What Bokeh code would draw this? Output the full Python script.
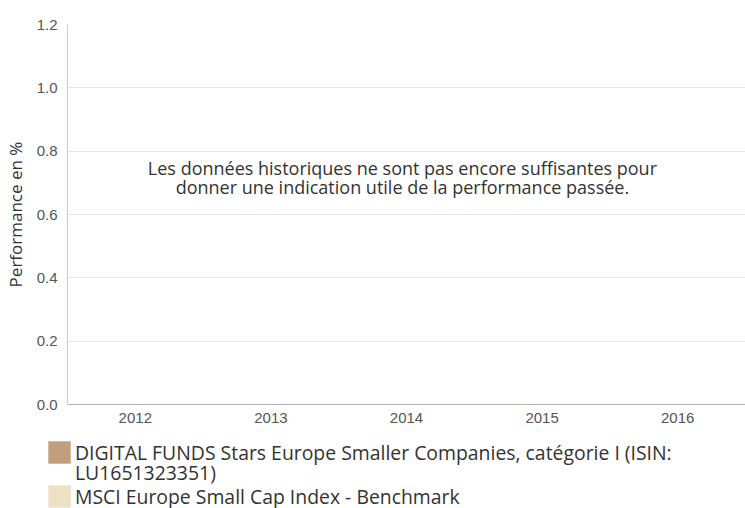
from bokeh.plotting import figure
from bokeh.layouts import column
from bokeh.models import FactorRange, Legend, LegendItem, Label, NumeralTickFormatter, ColumnDataSource
from bokeh.transform import dodge
from bokeh.embed import file_html
from bokeh.resources import INLINE
import numpy as np

years = ["2012", "2013", "2014", "2015", "2016"]
fund_values = [np.nan, np.nan, np.nan, np.nan, np.nan]
bench_values = [np.nan, np.nan, np.nan, np.nan, np.nan]
fund_name_lines = ["DIGITAL FUNDS Stars Europe Smaller Companies, catégorie I (ISIN:",
                   "LU1651323351)"]
bench_name = "MSCI Europe Small Cap Index - Benchmark"
message = "Les données historiques ne sont pas encore suffisantes pour\ndonner une indication utile de la performance passée."
y_label = "Performance en %"
fund_color = "#C39E7D"
bench_color = "#EEE2C6"

src = ColumnDataSource(dict(year=years, fund=fund_values, bench=bench_values))

p = figure(width=745, height=436, x_range=FactorRange(*years), y_range=(0, 1.2),
           output_backend="svg", toolbar_location=None,
           min_border_left=0, min_border_right=0, min_border_top=24, min_border_bottom=32)
p.frame_align = False

r1 = p.vbar(x=dodge("year", -0.18, range=p.x_range), top="fund", width=0.34, source=src,
            color=fund_color, line_color=None)
r2 = p.vbar(x=dodge("year", 0.18, range=p.x_range), top="bench", width=0.34, source=src,
            color=bench_color, line_color=None)

p.outline_line_color = None
p.background_fill_color = "white"
p.border_fill_color = "white"

p.xgrid.grid_line_color = None
p.ygrid.grid_line_color = "#e6e6e6"
p.yaxis.ticker = [0, 0.2, 0.4, 0.6, 0.8, 1.0, 1.2]
p.yaxis.formatter = NumeralTickFormatter(format="0.0")

for ax in (p.xaxis[0], p.yaxis[0]):
    ax.major_tick_line_color = None
    ax.minor_tick_line_color = None
    ax.major_label_text_font = "Liberation Sans"
    ax.major_label_text_font_size = "15px"
    ax.major_label_text_color = "#555555"
p.xaxis.axis_line_color = "#b0b0b0"
p.yaxis.axis_line_color = "#cccccc"
p.yaxis.major_label_standoff = 4
p.xaxis.major_label_standoff = 2
p.yaxis.axis_label = y_label
p.yaxis.axis_label_text_font = "Open Sans"
p.yaxis.axis_label_text_font_style = "normal"
p.yaxis.axis_label_text_font_size = "17px"
p.yaxis.axis_label_text_color = "#333333"
p.yaxis.axis_label_standoff = 7

msg = Label(x=2.47, y=0.717, text=message, text_align="center", text_baseline="middle",
            text_font="Open Sans", text_font_size="18px", text_color="#333333",
            text_line_height=0.82)
p.add_layout(msg)

# legend panel below the chart
q = figure(width=745, height=72, x_range=(0, 1), y_range=(0, 1),
           output_backend="svg", toolbar_location=None,
           x_axis_type=None, y_axis_type=None,
           min_border_left=45, min_border_right=0, min_border_top=2, min_border_bottom=0)
q.frame_align = False
q.outline_line_color = None
q.grid.visible = False
l1 = q.vbar(x=[0.5], top=[fund_values[0]], width=0.1, color=fund_color, line_color=None)
l1b = q.vbar(x=[0.5], top=[fund_values[0]], width=0.1, fill_alpha=0, line_alpha=0)
l2 = q.vbar(x=[0.5], top=[bench_values[0]], width=0.1, color=bench_color, line_color=None)

common = dict(orientation="vertical",
              label_text_font="Open Sans", label_text_font_size="19.4px",
              label_text_color="#333333", spacing=0,
              glyph_width=28, glyph_height=28, padding=0, margin=0,
              label_standoff=2, border_line_alpha=0, background_fill_alpha=0)

legend1 = Legend(items=[LegendItem(label=fund_name_lines[0], renderers=[l1])],
                 location="top_left", **common)
legend1b = Legend(items=[LegendItem(label=fund_name_lines[1], renderers=[l1b])],
                  location=(0, 22), **common)
legend2 = Legend(items=[LegendItem(label=bench_name, renderers=[l2])],
                 location=(0, -2), **common)
q.add_layout(legend1)
q.add_layout(legend1b)
q.add_layout(legend2)

open("out.html", "w").write(file_html(column(p, q), INLINE))
